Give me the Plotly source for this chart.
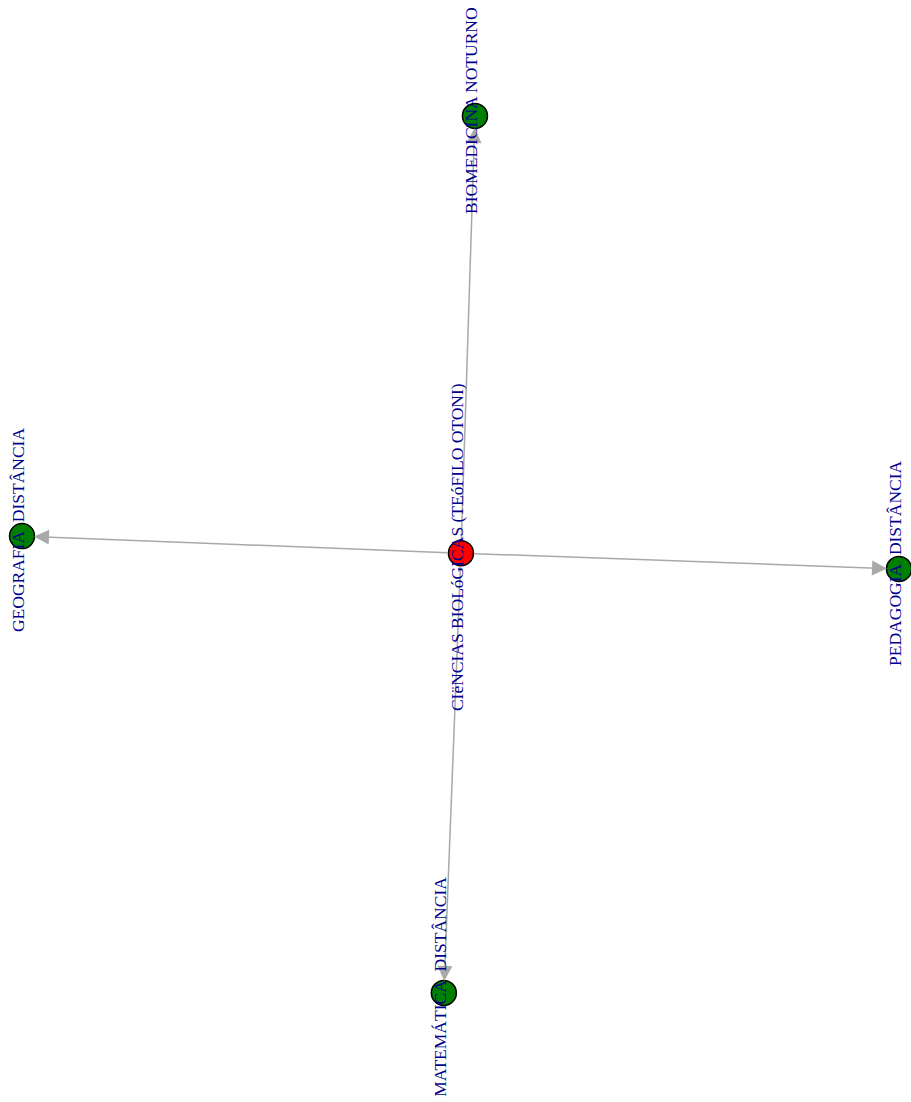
import plotly.graph_objects as go

# Node data (layout coordinates, normalized to [-1, 1])
# Labels as shown in the reference (the "À" before DISTÂNCIA is not rendered there)
node_names = [
    "CIëNCIAS BIOLóGICAS (TEóFILO OTONI)",
    "BIOMEDICINA NOTURNO",
    "GEOGRAFIA\u00a0 DISTÂNCIA",
    "PEDAGOGIA\u00a0 DISTÂNCIA",
    "MATEMÁTICA\u00a0 DISTÂNCIA",
]
node_x = [0.001, 0.033, -1.0, 1.0, -0.038]
node_y = [0.003, 1.0, 0.042, -0.033, -1.0]
node_colors = ["red", "green", "green", "green", "green"]

# Edges (source index -> target index)
edge_src = [0, 0, 0, 0]
edge_dst = [1, 2, 3, 4]

fig = go.Figure()

fig.add_trace(go.Scatter(
    x=node_x, y=node_y, mode="markers",
    marker=dict(size=25, color=node_colors, line=dict(color="black", width=1.5)),
    hoverinfo="text", hovertext=node_names, showlegend=False,
))

annotations = []
for s, d in zip(edge_src, edge_dst):
    annotations.append(dict(
        x=node_x[d], y=node_y[d], ax=node_x[s], ay=node_y[s],
        xref="x", yref="y", axref="x", ayref="y",
        text="", showarrow=True, arrowhead=2, arrowsize=2.0, arrowwidth=1.5,
        arrowcolor="#A9A9A9", standoff=12, startstandoff=12,
    ))
for i, name in enumerate(node_names):
    annotations.append(dict(
        x=node_x[i], y=node_y[i], xref="x", yref="y",
        text=name, showarrow=False, textangle=-90,
        font=dict(family="Liberation Serif, Times New Roman, serif", size=17.5, color="#00008B"),
        xanchor="center", yanchor="middle", yshift=6, xshift=-4,
    ))

fig.update_layout(
    width=911, height=1102,
    margin=dict(l=0, r=0, t=0, b=0),
    paper_bgcolor="white", plot_bgcolor="white",
    xaxis=dict(range=[-1.0502, 1.0274], visible=False, fixedrange=True),
    yaxis=dict(range=[-1.2486, 1.2645], visible=False, fixedrange=True),
    annotations=annotations,
    showlegend=False,
)

fig.write_html(
    "out.html",
    config={"displayModeBar": False},
    post_script="document.body.style.margin='0';document.body.style.overflow='hidden';",
)
